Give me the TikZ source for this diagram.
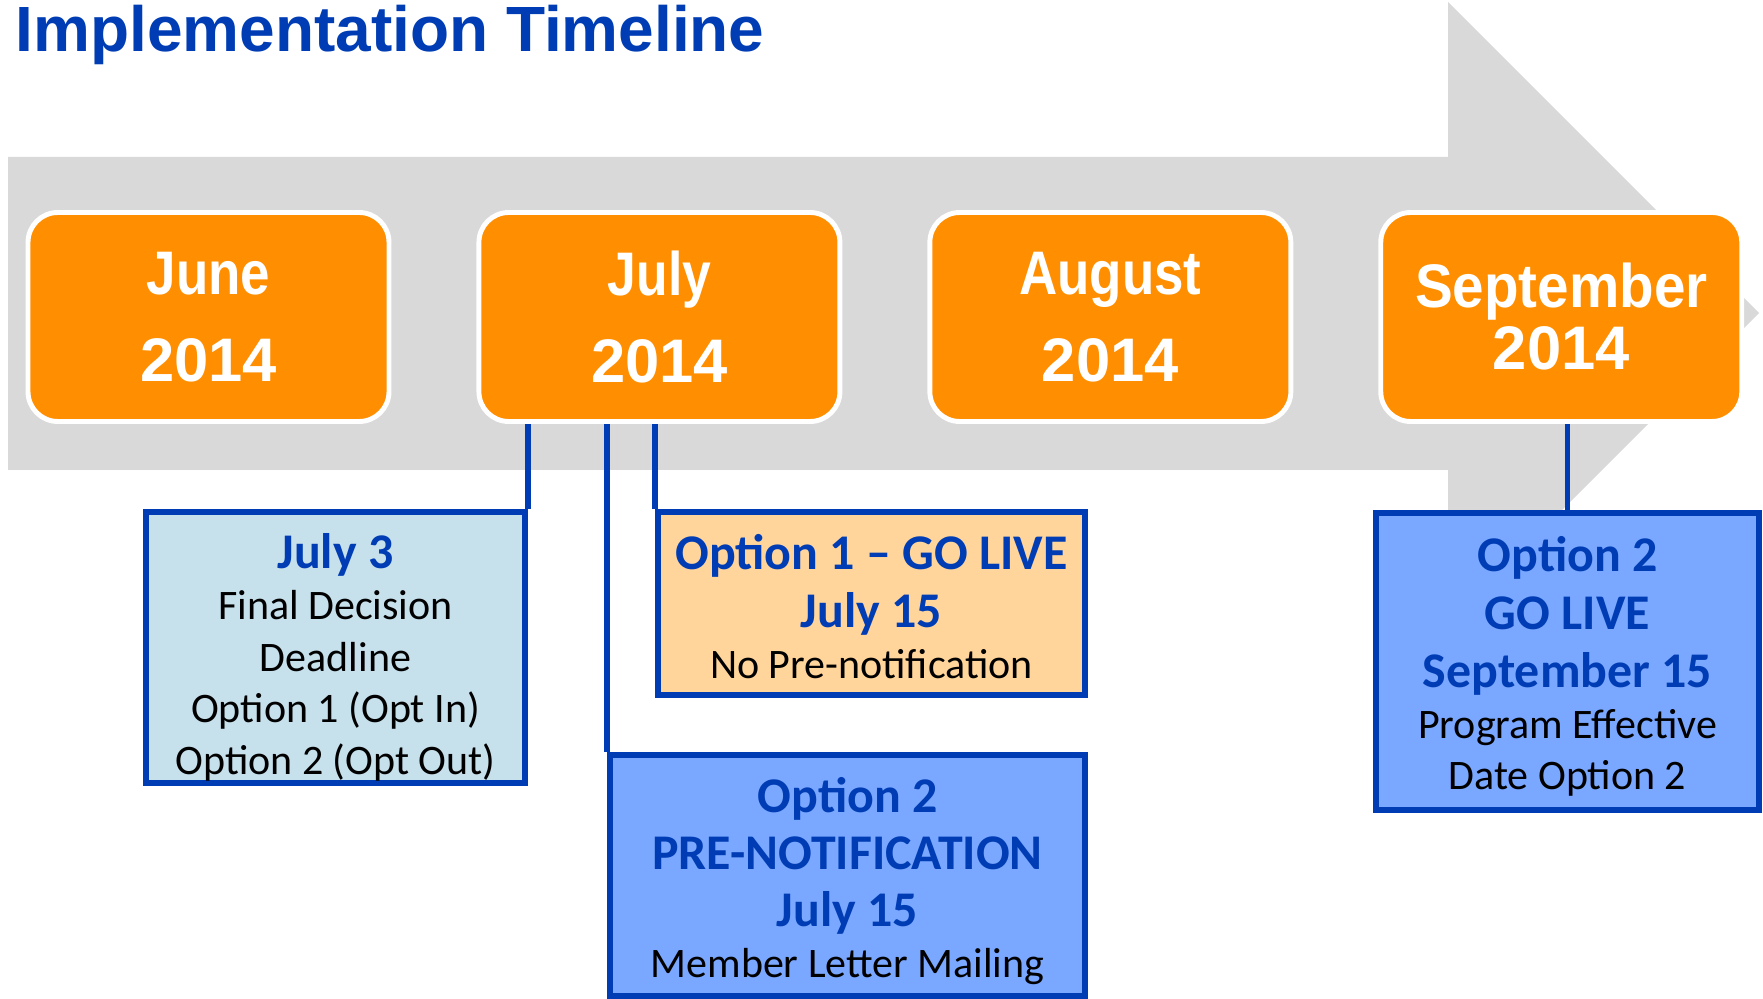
\documentclass[tikz,border=0pt]{standalone}
\usepackage{fontspec}
\setmainfont{Liberation Sans}
\newfontfamily\notefont{Carlito}
\usetikzlibrary{positioning}
\definecolor{tlblue}{RGB}{0,61,180}
\definecolor{tlorange}{RGB}{255,143,0}
\definecolor{tlgrey}{RGB}{217,217,217}
\definecolor{paleblue}{RGB}{198,224,236}
\definecolor{paleorange}{RGB}{255,213,155}
\definecolor{midblue}{RGB}{122,167,255}
\newcommand{\hl}[2][0pt]{{\bfseries\fontsize{14.2}{14.7}\selectfont\color{tlblue}\rule{0pt}{#1}#2}}
\newcommand{\mname}[2]{\scalebox{#1}[1]{#2}}

\begin{document}
\begin{tikzpicture}[x=0.1mm, y=-0.1mm, node distance=8.5mm, month/.style={rectangle, rounded corners=8.5pt, draw=white, line width=1.4pt, fill=tlorange, text=white, minimum width=36.1mm, minimum height=20.9mm, align=center, inner sep=0pt, font=\bfseries\fontsize{17.5}{24.75}\selectfont}, note/.style={rectangle, draw=tlblue, line width=1.7pt, align=center, inner sep=0pt, font=\notefont\fontsize{11.95}{14.7}\selectfont}, link/.style={draw=tlblue, line width=1.6pt}]
	\useasboundingbox (0,0) rectangle (1763,999);
	\fill[tlgrey] (8,157) -- (1448,157) -- (1448,2) -- (1759,313) -- (1448,624) -- (1448,470) -- (8,470) -- cycle;
	\node[anchor=base west, inner sep=0pt, text=tlblue, font=\bfseries\fontsize{18.2}{22}\selectfont] (title) at (15,52) {Implementation Timeline};
	\node[month] (jun) at (208.5,317) {\mname{0.86}{June}\\2014};
	\node[month, right=of jun] (jul) {\mname{0.84}{July}\\2014};
	\node[month, right=of jul] (aug) {\mname{0.86}{August}\\2014};
	\node[month, right=of aug] (sep) {\mname{0.92}{September}\\[-7.1pt]2014};
	\node[note, fill=paleblue, minimum width=37.9mm, minimum height=27.1mm] (d3) at (335.5,647.5) {\hl[15.6pt]{July 3}\\[-0.3pt]Final Decision\\Deadline\\Option 1 (Opt In)\\Option 2 (Opt Out)};
	\node[note, fill=paleorange, minimum width=42.7mm, minimum height=18.3mm] (o1) at (871.5,603.5) {\hl[11.9pt]{Option 1 – GO LIVE}\\[1.8pt]\hl{July 15}\\[-0.3pt]No Pre-notification};
	\node[note, fill=midblue, minimum width=47.5mm, minimum height=24.1mm] (o2) at (847.5,875.5) {\hl[13.1pt]{Option 2}\\[1.5pt]\hl{PRE-NOTIFICATION}\\[1.5pt]\hl{July 15}\\[-0.3pt]Member Letter Mailing};
	\node[note, fill=midblue, minimum width=38.3mm, minimum height=29.7mm] (s2) at (1567.5,661.5) {\hl[12.8pt]{Option 2}\\[1.8pt]\hl{GO LIVE}\\[1.8pt]\hl{September 15}\\[-0.3pt]Program Effective\\Date Option 2};
	\draw[link] (d3.north east |- jul.south) -- (d3.north east);
	\draw[link] (o1.north west |- jul.south) -- (o1.north west);
	\draw[link] (o2.north west |- jul.south) -- (o2.north west);
	\draw[link] (s2.north |- sep.south) -- (s2.north);
\end{tikzpicture}
\end{document}
